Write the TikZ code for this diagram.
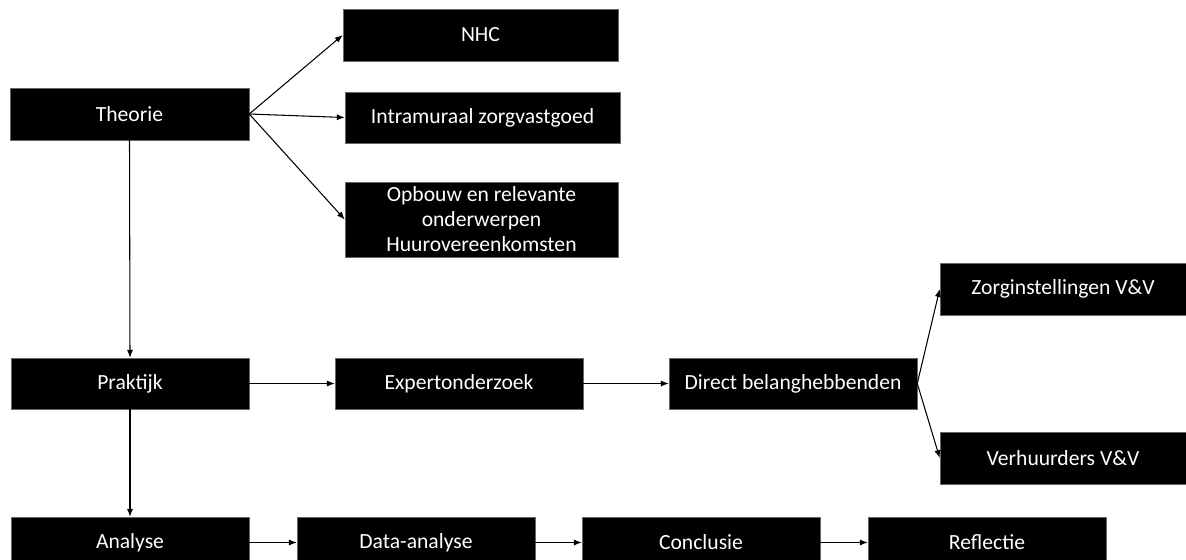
\documentclass[tikz,border=0pt]{standalone}
\usepackage{fontspec}
\setmainfont{Carlito}
\usetikzlibrary{arrows.meta}
\tikzset{
  bx/.style 2 args={draw=black!60, line width=0.3pt, fill=black, text=white, inner sep=0pt,
    minimum width=#1*0.02cm, minimum height=#2*0.02cm, align=center,
    font=\fontsize{12.3}{14.2}\selectfont},
  conn/.style={line width=0.6pt, -{Latex[length=4.5pt,width=3.5pt]}}
}
\begin{document}
\begin{tikzpicture}[x=0.02cm,y=-0.02cm]
\useasboundingbox (0,0) rectangle (1186,559);
\begin{scope}
\clip (0,0) rectangle (1186,559);
\node[bx={239}{52}] (theorie) at (129.5,114) {Theorie};
\node[bx={275}{52}] (nhc) at (480.5,35) {NHC};
\node[bx={275}{51}] (intra) at (482.5,117.5) {Intramuraal zorgvastgoed};
\node[bx={273}{75}] (opbouw) at (481.5,219.5) {Opbouw en relevante\\onderwerpen\\Huurovereenkomsten};
\node[bx={238}{51}] (praktijk) at (130,383.5) {Praktijk};
\node[bx={248}{51}] (expert) at (459,383.5) {Expertonderzoek};
\node[bx={248}{51}] (direct) at (793,383.5) {Direct belanghebbenden};
\node[bx={246}{52}] (zorg) at (1063,289) {Zorginstellingen V\&V};
\node[bx={246}{52}] (verh) at (1063,458) {Verhuurders V\&V};
\node[bx={238}{51}] (analyse) at (130,542.5) {Analyse};
\node[bx={238}{51}] (data) at (416,542.5) {Data-analyse};
\node[bx={238}{51}] (concl) at (701,542.5) {Conclusie};
\node[bx={238}{51}] (refl) at (987,542.5) {Reflectie};

\draw[conn] (theorie.east) -- (nhc.west);
\draw[conn] (theorie.east) -- (intra.west);
\draw[conn] (theorie.east) -- (opbouw.west);
\draw[conn] (theorie.south) -- (praktijk.north);
\draw[conn] (praktijk.east) -- (expert.west);
\draw[conn] (expert.east) -- (direct.west);
\draw[conn] (direct.east) -- (zorg.west);
\draw[conn] (direct.east) -- (verh.west);
\draw[conn] (praktijk.south) -- (analyse.north);
\draw[conn] (analyse.east) -- (data.west);
\draw[conn] (data.east) -- (concl.west);
\draw[conn] (concl.east) -- (refl.west);
\end{scope}
\end{tikzpicture}
\end{document}
